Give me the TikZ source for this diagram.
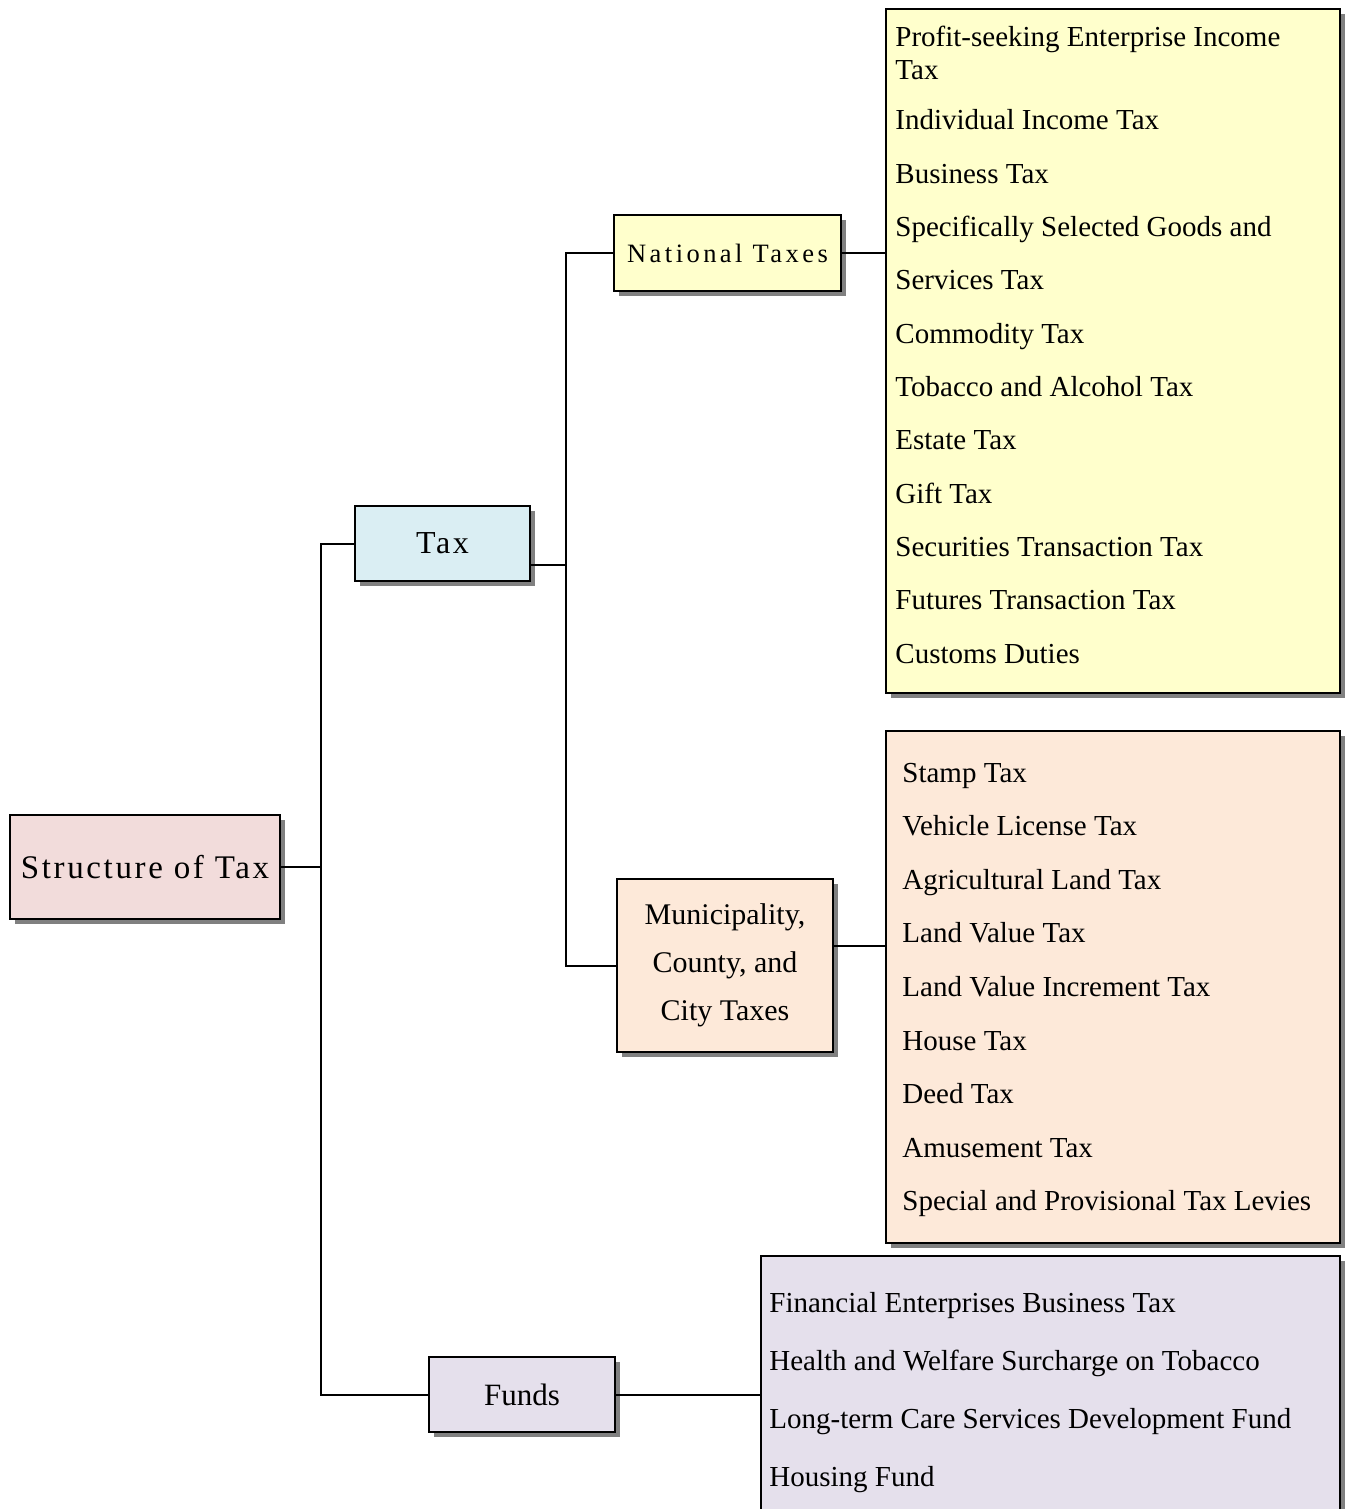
\documentclass[tikz,border=0pt]{standalone}
\usepackage{fontspec}
\setmainfont{Liberation Serif}
\usetikzlibrary{shadows}

\definecolor{rootpink}{HTML}{F2DCDB}
\definecolor{taxblue}{HTML}{DAEEF3}
\definecolor{natyellow}{HTML}{FFFFCC}
\definecolor{munpeach}{HTML}{FDE9D9}
\definecolor{fundlilac}{HTML}{E5E0EC}

\tikzset{
  box/.style={draw, line width=1pt, inner sep=0pt,
    drop shadow={shadow xshift=2.5pt, shadow yshift=-2.5pt, fill=black!50, opacity=1}},
  link/.style={line width=1pt},
  item/.style={anchor=base west, inner sep=0pt, font=\fontsize{14.5}{16.5}\selectfont},
}

\begin{document}
\begin{tikzpicture}[x=0.5pt, y=-0.5pt]
\useasboundingbox (0,0) rectangle (1351,1509);

% list boxes
\node[box, fill=natyellow, minimum width=227pt, minimum height=342pt] (natlist) at (1113,351) {};
\node[box, fill=munpeach, minimum width=227pt, minimum height=256pt] (munlist) at (1113,987) {};
\node[box, fill=fundlilac, minimum width=289.5pt, minimum height=130pt] (fundlist) at (1050.5,1386) {};

% tree
\node[box, fill=rootpink, minimum width=135pt, minimum height=52pt,
  font=\fontsize{16.5}{20}\selectfont\addfontfeature{LetterSpace=8}] (root) at (145,867) {Structure of Tax};
\node[box, fill=taxblue, minimum width=87.5pt, minimum height=37.5pt,
  font=\fontsize{16}{20}\selectfont\addfontfeature{LetterSpace=8}] (tax) at (442.5,543.5) {Tax};
\node[box, fill=natyellow, minimum width=113.5pt, minimum height=38pt,
  font=\fontsize{13.25}{16}\selectfont\addfontfeature{LetterSpace=13}] (nat) at (727.5,253) {National Taxes};
\node[box, fill=munpeach, minimum width=108pt, minimum height=86.5pt, align=center,
  font=\fontsize{15}{24}\selectfont] (mun) at (725,965.5) {Municipality,\\County, and\\City Taxes};
\node[box, fill=fundlilac, minimum width=93pt, minimum height=37.5pt,
  font=\fontsize{15.5}{20}\selectfont] (funds) at (522,1394.5) {Funds};

% connectors
\coordinate (rootbus) at (321,867);
\coordinate (taxbus) at (566,565);
\draw[link] (root.east) -- (rootbus);
\draw[link] (tax.west) -| (rootbus) |- (funds.west);
\draw[link] (tax.east |- taxbus) -- (taxbus);
\draw[link] (nat.west) -| (taxbus) |- (mun.west);
\draw[link] (nat.east) -- (nat.east -| natlist.west);
\draw[link] ([yshift=9.75pt]mun.east) -- ([yshift=9.75pt]mun.east -| munlist.west);
\draw[link] (funds.east) -- (funds.east -| fundlist.west);

% national taxes
\node[item, align=left] (nat0) at (895,80) {Profit-seeking Enterprise Income\\Tax};
\foreach \txt [count=\i] in {Individual Income Tax, Business Tax,
    Specifically Selected Goods and, Services Tax, Commodity Tax,
    Tobacco and Alcohol Tax, Estate Tax, Gift Tax,
    Securities Transaction Tax, Futures Transaction Tax, Customs Duties}
  \node[item] (nat\i) at (895,{130+53.3*(\i-1)}) {\txt};

% local taxes
\foreach \txt [count=\i] in {Stamp Tax, Vehicle License Tax, Agricultural Land Tax,
    Land Value Tax, Land Value Increment Tax, House Tax, Deed Tax,
    Amusement Tax, Special and Provisional Tax Levies}
  \node[item] (mun\i) at (902,{782+53.6*(\i-1)}) {\txt};

% funds
\foreach \txt [count=\i] in {Financial Enterprises Business Tax,
    Health and Welfare Surcharge on Tobacco,
    Long-term Care Services Development Fund, Housing Fund}
  \node[item] (fund\i) at (769,{1312+58*(\i-1)}) {\txt};
\end{tikzpicture}
\end{document}
